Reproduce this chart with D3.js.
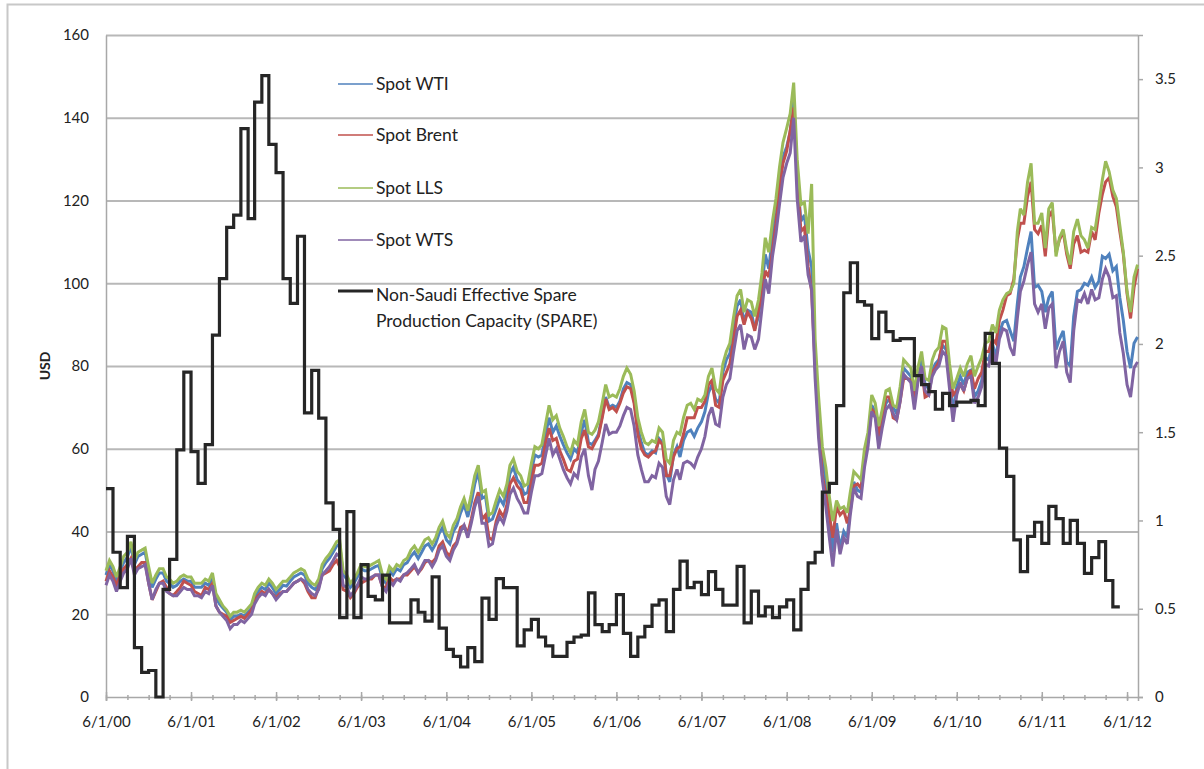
<!DOCTYPE html>
<html>
<head>
<meta charset="utf-8">
<script src="https://cdn.jsdelivr.net/npm/d3@7"></script>
<style>
  body { margin: 0; background: #fff; }
  svg text { font-family: Lato, "Open Sans", sans-serif; fill: #222; }
</style>
</head>
<body>
<svg id="chart" width="1204" height="769"></svg>
<script>
// Spot crude prices (USD/bbl), sampled on the 1st and 16th of each month, Jun 2000 - Jul 2012
const spotWTI = [
  29.5, 32.0, 30.5, 28.0, 30.5, 32.5, 33.8, 36.5, 32.0, 34.0, 34.5, 35.0, 30.5, 26.5,
  28.5, 30.0, 30.0, 28.0, 27.5, 26.5, 27.0, 28.0, 28.5, 28.0, 28.0, 26.5, 26.5, 26.5, 27.5, 27.0, 29.0, 24.0, 22.5, 21.5, 20.5, 18.5, 19.5, 19.5,
  20.0, 19.5, 20.5, 21.5, 24.0, 25.5, 26.5, 26.0, 27.5, 26.5, 25.0, 26.0, 27.0, 26.8, 28.0, 29.0, 29.5, 30.0, 29.5, 27.5, 26.5, 26.0, 27.5, 31.0,
  32.5, 33.5, 35.0, 36.5, 37.0, 29.5, 28.5, 26.5, 27.5, 29.0, 31.0, 30.5, 30.5, 31.0, 31.5, 31.8, 28.5, 27.5, 30.5, 29.5, 31.0, 30.5, 32.0, 32.5,
  34.0, 35.0, 33.5, 35.0, 36.5, 37.0, 35.5, 37.0, 39.5, 41.0, 38.0, 37.0, 40.0, 41.5, 44.5, 46.5, 43.5, 47.0, 51.5, 54.5, 48.0, 48.5, 42.5, 43.0,
  45.5, 48.0, 46.5, 49.5, 54.0, 55.5, 52.5, 51.5, 49.0, 49.5, 54.5, 58.5, 58.0, 58.5, 63.5, 67.5, 64.0, 65.5, 63.0, 61.0, 59.0, 57.5, 60.0, 59.0,
  64.0, 67.0, 61.5, 61.0, 62.0, 63.5, 68.0, 72.5, 70.0, 70.5, 70.0, 71.5, 74.5, 76.0, 75.5, 71.5, 65.0, 61.5, 59.0, 58.5, 59.5, 59.0, 62.5, 61.5,
  54.0, 52.0, 58.5, 60.5, 58.0, 62.0, 64.0, 64.5, 63.0, 65.0, 66.5, 69.0, 73.5, 75.5, 72.0, 71.0, 78.5, 81.5, 83.0, 89.0, 94.5, 96.0, 90.5, 93.5,
  93.0, 89.0, 92.0, 99.0, 107.0, 103.5, 111.5, 117.0, 124.0, 130.5, 133.0, 136.5, 144.0, 126.0, 115.0, 116.5, 108.0, 104.0, 82.0, 68.0, 58.0, 52.0, 44.0, 35.0,
  42.0, 36.0, 40.0, 38.5, 45.5, 52.0, 50.0, 49.5, 57.0, 62.0, 70.5, 69.0, 61.5, 66.5, 71.0, 72.0, 70.0, 68.5, 73.0, 79.5, 78.5, 77.5, 71.0, 77.5,
  81.5, 75.5, 74.5, 79.0, 80.5, 81.5, 85.0, 84.0, 76.5, 69.0, 75.0, 77.5, 75.5, 78.5, 79.0, 72.5, 74.0, 76.5, 82.0, 81.5, 85.5, 82.0, 88.0, 90.5,
  91.0, 88.5, 86.0, 95.0, 101.5, 104.0, 108.5, 112.5, 99.0, 99.5, 98.0, 93.0, 96.5, 98.0, 84.0, 86.5, 88.5, 81.0, 80.0, 92.0, 98.0, 98.5, 100.0, 99.5,
  101.5, 99.0, 100.5, 106.5, 106.0, 107.0, 103.0, 104.0, 96.5, 91.0, 83.5, 79.5, 85.5, 87.0
];
const spotBrent = [
  28.0, 30.5, 29.0, 27.0, 29.5, 31.0, 32.0, 33.5, 30.5, 31.5, 32.5, 32.5, 27.5, 23.5,
  25.5, 27.5, 28.0, 26.5, 25.0, 24.5, 25.5, 26.5, 28.0, 27.5, 27.0, 25.5, 25.0, 24.5, 26.5, 26.0, 27.5, 22.0, 20.5, 20.0, 19.5, 18.0, 18.5, 19.0,
  19.5, 19.0, 20.0, 21.0, 23.5, 24.5, 25.5, 25.0, 26.0, 25.0, 24.0, 25.0, 25.5, 25.5, 26.5, 27.5, 28.0, 28.5, 27.5, 25.5, 24.0, 24.0, 26.5, 29.5,
  30.0, 30.5, 32.0, 33.0, 31.5, 26.0, 25.5, 24.0, 25.0, 26.5, 27.5, 28.0, 28.5, 28.5, 29.5, 29.5, 26.5, 26.5, 29.0, 28.0, 28.5, 28.5, 29.5, 29.5,
  30.5, 31.5, 30.0, 31.0, 32.5, 33.0, 32.5, 33.5, 36.5, 37.5, 35.0, 34.0, 36.5, 37.5, 41.0, 41.5, 39.5, 43.0, 47.0, 49.5, 43.0, 44.0, 38.5, 38.0,
  42.5, 45.0, 43.5, 46.5, 51.5, 53.0, 51.0, 50.0, 47.0, 47.0, 52.0, 56.0, 56.0, 56.5, 61.5, 65.0, 62.0, 62.5, 59.5, 57.5, 55.0, 54.5, 57.0, 57.5,
  62.5, 64.5, 60.5, 60.0, 61.5, 63.0, 67.5, 72.0, 69.5, 70.0, 69.0, 71.0, 73.5, 75.0, 74.5, 71.0, 63.5, 60.0, 58.5, 58.0, 59.0, 59.5, 62.0, 61.0,
  53.5, 53.5, 58.0, 60.0, 60.5, 63.5, 67.5, 67.5, 67.5, 70.0, 70.0, 71.5, 75.5, 76.5, 70.5, 70.0, 76.5, 78.5, 80.5, 86.0, 92.0, 93.5, 90.0, 93.0,
  91.5, 88.5, 93.5, 97.0, 103.0, 101.5, 108.0, 114.5, 123.0, 129.0, 132.0, 137.0, 142.5, 127.5, 112.5, 113.5, 104.0, 98.0, 80.0, 66.0, 53.5, 49.0, 44.0, 38.5,
  46.0, 44.0, 45.0, 42.0, 45.0, 51.0, 51.5, 50.5, 57.5, 62.0, 69.5, 68.5, 63.0, 67.5, 72.5, 72.5, 67.5, 67.0, 71.5, 77.0, 77.0, 76.5, 71.5, 76.5,
  79.5, 72.5, 73.0, 78.5, 79.5, 81.0, 86.0, 86.0, 78.5, 73.0, 74.0, 75.5, 74.0, 77.0, 79.0, 74.5, 77.0, 78.5, 83.5, 83.5, 86.5, 85.5, 91.0, 93.5,
  97.0, 97.5, 101.0, 110.5, 114.5, 114.5, 121.0, 124.5, 113.0, 112.0, 114.0, 106.5, 116.0, 117.5, 107.5, 110.5, 112.5, 107.0, 103.5, 109.5, 111.5, 107.5, 108.0, 107.5,
  112.5, 110.5, 117.0, 121.5, 124.5, 125.5, 121.0, 118.5, 112.5, 107.0, 97.5, 91.5, 99.0, 103.5
];
const spotLLS = [
  30.5, 33.0, 31.5, 29.0, 31.5, 34.0, 35.0, 37.5, 33.0, 35.0, 35.5, 36.0, 31.5, 27.5,
  29.5, 31.0, 31.0, 29.0, 28.5, 27.5, 28.0, 29.0, 29.5, 29.0, 29.0, 27.5, 27.5, 27.5, 28.5, 28.0, 30.0, 25.0, 23.5, 22.0, 21.0, 19.5, 20.5, 20.5,
  21.0, 20.5, 21.5, 22.5, 25.0, 26.5, 27.5, 27.0, 28.5, 27.5, 26.0, 27.0, 28.0, 28.0, 29.0, 30.0, 30.5, 31.0, 30.5, 28.5, 27.5, 27.0, 28.5, 32.0,
  33.5, 34.5, 36.0, 37.5, 38.0, 30.5, 29.5, 27.5, 28.5, 30.0, 32.0, 31.5, 31.5, 32.0, 32.5, 33.0, 29.5, 28.5, 31.5, 30.5, 32.0, 31.5, 33.0, 33.5,
  35.5, 36.5, 35.0, 36.5, 38.0, 38.5, 37.0, 38.5, 41.0, 42.5, 39.5, 38.5, 41.5, 43.0, 46.0, 48.0, 45.0, 49.0, 53.5, 56.0, 49.5, 50.0, 44.0, 44.5,
  47.5, 50.0, 48.5, 51.5, 56.0, 57.5, 54.5, 53.5, 51.0, 51.5, 56.5, 60.5, 60.0, 61.0, 66.0, 70.5, 67.0, 68.0, 65.0, 63.0, 60.5, 59.0, 62.0, 61.0,
  66.5, 69.5, 64.0, 63.5, 64.5, 66.5, 71.0, 75.5, 72.5, 73.0, 72.5, 74.5, 77.5, 79.5, 78.0, 74.0, 67.5, 64.0, 61.5, 61.0, 62.0, 61.5, 65.0, 64.0,
  57.5, 56.5, 62.0, 64.0, 63.5, 67.5, 70.5, 71.0, 69.5, 72.0, 71.5, 73.0, 77.5, 79.5, 74.5, 73.5, 80.5, 83.5, 85.5, 91.5, 97.0, 98.5, 93.0, 96.0,
  95.5, 92.0, 96.0, 102.5, 111.0, 107.5, 115.0, 120.5, 128.0, 134.0, 137.5, 141.0, 148.5, 130.0, 119.0, 119.5, 112.0, 124.0, 86.5, 72.5, 60.5, 55.5, 48.5, 42.5,
  47.5, 45.5, 46.0, 44.5, 49.5, 54.5, 53.5, 52.5, 60.0, 64.0, 73.0, 71.0, 65.5, 69.5, 74.0, 74.5, 70.5, 70.0, 75.0, 81.5, 80.5, 79.5, 74.0, 79.5,
  83.5, 77.0, 76.5, 81.5, 83.5, 84.5, 89.5, 89.0, 80.5, 74.5, 77.0, 79.5, 77.5, 80.5, 82.5, 77.5, 80.0, 82.0, 85.5, 86.0, 90.0, 88.0, 93.5, 96.0,
  97.5, 98.0, 100.0, 112.5, 118.0, 116.5, 124.5, 129.0, 114.5, 114.5, 117.0, 108.5, 118.0, 119.5, 106.5, 111.0, 113.0, 108.0, 104.5, 112.5, 115.5, 111.5, 110.5, 108.5,
  113.5, 113.0, 119.0, 125.0, 129.5, 127.0, 122.5, 120.5, 114.0, 107.5, 98.0, 93.0, 101.5, 104.5
];
const spotWTS = [
  27.0, 29.5, 28.0, 25.5, 28.0, 30.0, 31.0, 33.5, 29.5, 31.0, 31.5, 32.0, 27.5, 23.5,
  26.0, 27.5, 27.5, 25.5, 25.0, 24.5, 24.5, 25.5, 26.5, 26.0, 26.0, 24.5, 24.5, 24.0, 25.5, 25.0, 27.0, 22.0, 20.5, 19.5, 18.5, 16.5, 17.5, 17.5,
  18.5, 18.0, 19.0, 20.0, 22.5, 24.0, 25.0, 24.5, 26.0, 25.0, 23.5, 24.5, 25.5, 25.5, 26.5, 27.5, 28.0, 28.5, 28.0, 26.0, 25.0, 24.5, 26.0, 29.5,
  30.5, 31.5, 33.0, 34.5, 34.0, 27.0, 26.5, 24.5, 25.5, 27.0, 29.0, 28.5, 28.5, 29.0, 29.5, 29.5, 26.5, 25.5, 28.0, 27.0, 28.5, 28.0, 29.5, 30.0,
  31.0, 32.0, 30.0, 31.5, 33.0, 33.0, 31.5, 33.0, 35.5, 36.5, 34.0, 33.0, 35.5, 37.0, 40.0, 41.5, 38.5, 42.0, 46.0, 48.5, 42.0, 42.0, 36.5, 37.0,
  41.5, 43.5, 42.0, 45.0, 49.0, 50.5, 48.0, 46.5, 44.5, 44.5, 49.5, 53.5, 53.5, 54.0, 58.5, 62.5, 58.5, 60.0, 57.5, 55.0, 53.0, 51.5, 54.0, 53.0,
  58.0, 60.0, 53.5, 50.0, 55.0, 57.0, 61.5, 66.0, 63.5, 64.0, 64.0, 65.5, 68.0, 70.0, 69.5, 65.5, 58.5, 55.0, 52.0, 52.0, 53.5, 53.0, 56.5, 55.5,
  48.5, 46.5, 52.5, 55.0, 52.5, 56.5, 57.0, 56.5, 55.5, 58.0, 60.0, 63.0, 68.0, 70.0, 66.0, 65.5, 72.5, 75.5, 77.0, 83.0, 88.5, 90.0, 84.0, 87.5,
  87.0, 84.0, 86.5, 94.0, 101.0, 97.5, 106.5, 112.0, 119.0, 125.5, 129.0, 131.5, 140.0, 120.5, 110.0, 111.5, 102.0, 98.5, 77.0, 62.5, 52.5, 46.0, 38.5, 31.5,
  40.5, 34.5, 38.5, 37.0, 44.0, 50.5, 48.5, 48.0, 55.5, 60.5, 69.0, 67.5, 60.0, 65.0, 69.5, 70.5, 68.5, 67.0, 71.5, 78.0, 77.0, 76.0, 69.5, 76.0,
  80.0, 74.0, 73.0, 77.5, 79.0, 80.0, 83.5, 82.5, 74.5, 66.5, 73.0, 76.0, 74.0, 77.0, 77.5, 71.0, 72.5, 75.0, 80.5, 80.0, 84.0, 80.5, 86.5, 89.0,
  88.5, 84.5, 82.5, 91.5, 98.0, 100.5, 104.5, 107.5, 95.0, 93.0, 95.0, 89.0, 94.0, 95.0, 79.5, 83.5, 86.0, 78.5, 76.0, 88.5, 96.0, 95.5, 97.5, 95.0,
  98.5, 96.0, 96.5, 101.0, 103.5, 101.5, 96.5, 97.0, 88.0, 83.0, 75.5, 72.5, 79.5, 81.0
];

// Non-Saudi effective spare production capacity, monthly Jun 2000 - May 2012 (right axis)
const spareCapacity = [
  1.18, 0.82, 0.62, 0.91, 0.28, 0.14, 0.15,
  0.00, 0.61, 0.78, 1.40, 1.84, 1.39, 1.21, 1.43, 2.05, 2.37, 2.66, 2.73,
  3.22, 2.71, 3.37, 3.52, 3.13, 2.97, 2.37, 2.23, 2.61, 1.61, 1.85, 1.58,
  1.10, 0.95, 0.45, 1.05, 0.45, 0.75, 0.57, 0.55, 0.69, 0.42, 0.42, 0.42,
  0.55, 0.48, 0.43, 0.68, 0.39, 0.27, 0.23, 0.17, 0.28, 0.20, 0.56, 0.44,
  0.67, 0.62, 0.62, 0.29, 0.38, 0.44, 0.34, 0.29, 0.23, 0.23, 0.31, 0.34,
  0.35, 0.59, 0.41, 0.37, 0.41, 0.58, 0.36, 0.23, 0.34, 0.40, 0.52, 0.55,
  0.37, 0.61, 0.77, 0.62, 0.65, 0.58, 0.71, 0.61, 0.52, 0.52, 0.74, 0.42,
  0.60, 0.46, 0.51, 0.45, 0.51, 0.55, 0.38, 0.61, 0.76, 0.82, 1.16, 1.21,
  1.65, 2.29, 2.46, 2.24, 2.22, 2.03, 2.18, 2.07, 2.02, 2.03, 2.03, 1.82,
  1.77, 1.73, 1.63, 1.72, 1.65, 1.67, 1.67, 1.68, 1.65, 2.06, 1.89, 1.41,
  1.25, 0.89, 0.71, 0.91, 0.99, 0.87, 1.08, 1.01, 0.87, 1.00, 0.87, 0.70,
  0.79, 0.88, 0.66, 0.51, 0.51
];

const seriesNames = ["Spot WTI", "Spot Brent", "Spot LLS", "Spot WTS"];
const spareName = ["Non-Saudi Effective Spare", "Production Capacity (SPARE)"];
const usdTicks = [0, 20, 40, 60, 80, 100, 120, 140, 160];
const spareTicks = [0, 0.5, 1, 1.5, 2, 2.5, 3, 3.5];
const yearTicks = d3.range(2000, 2013).map(yr => new Date(yr, 5, 1));
const quarterTicks = d3.range(0, 49).map(i => new Date(2000, 5 + 3 * i, 1));

const colors = ["#4F81BD", "#C0504D", "#9BBB59", "#8064A2"];
const spareColor = "#262626";

const svg = d3.select("#chart");
const plotL = 106, plotR = 1138, plotT = 35, plotB = 697;

const x = d3.scaleTime()
  .domain([new Date(2000, 5, 1), new Date(2012, 6, 18)])
  .range([plotL, plotR]);
const yL = d3.scaleLinear().domain([0, 160]).range([plotB, plotT]);
const yR = d3.scaleLinear().domain([0, 3.75]).range([plotB, plotT]);

svg.append("rect").attr("width", 1204).attr("height", 769).attr("fill", "#fff");
// outer chart frame
svg.append("rect")
  .attr("x", 7.5).attr("y", 4.5).attr("width", 1400).attr("height", 900)
  .attr("fill", "none").attr("stroke", "#c8c8c8").attr("stroke-width", 2);

// horizontal gridlines
const grid = svg.append("g").attr("transform", `translate(${plotL},0)`)
  .call(d3.axisLeft(yL).tickValues(usdTicks.slice(1)).tickSize(-(plotR - plotL)).tickFormat(""));
grid.select(".domain").remove();
grid.selectAll("line").attr("stroke", "#b8b8b8").attr("stroke-width", 2);

// left axis labels
const axL = svg.append("g").attr("transform", `translate(${plotL},0)`)
  .call(d3.axisLeft(yL).tickValues(usdTicks).tickSize(0).tickPadding(17));
axL.select(".domain").attr("stroke", "#a8a8a8").attr("stroke-width", 1.5);
axL.selectAll("text").attr("font-size", 15).attr("fill", "#222");

// right axis
const axR = svg.append("g").attr("transform", `translate(${plotR},0)`)
  .call(d3.axisRight(yR).tickValues(spareTicks).tickSize(5).tickPadding(12).tickFormat(d => String(d)));
axR.select(".domain").attr("stroke", "#a8a8a8").attr("stroke-width", 1.5);
axR.selectAll("line").attr("stroke", "#a8a8a8").attr("stroke-width", 1.5);
axR.selectAll("text").attr("font-size", 15).attr("fill", "#222");

// bottom axis: minor quarterly ticks, major yearly ticks with labels
const axMinor = svg.append("g").attr("transform", `translate(0,${plotB})`)
  .call(d3.axisBottom(x).tickValues(quarterTicks.filter(d => d <= x.domain()[1])).tickSize(3).tickFormat(""));
axMinor.select(".domain").remove();
axMinor.selectAll("line").attr("y1", -2).attr("stroke", "#a8a8a8").attr("stroke-width", 1.5);

const axB = svg.append("g").attr("transform", `translate(0,${plotB})`)
  .call(d3.axisBottom(x).tickValues(yearTicks).tickSize(4).tickFormat(d3.timeFormat("%-m/%-d/%y")));
axB.select(".domain").attr("stroke", "#a8a8a8").attr("stroke-width", 1.5);
axB.selectAll("line").attr("y1", -5).attr("stroke", "#a8a8a8").attr("stroke-width", 1.5);
axB.selectAll("text").attr("y", 25).attr("dy", "0.35em").attr("font-size", 15).attr("fill", "#222");

// axis title
svg.append("text")
  .attr("transform", `translate(46,${(plotT + plotB) / 2}) rotate(-90)`)
  .attr("text-anchor", "middle").attr("dominant-baseline", "middle")
  .attr("font-size", 14).attr("font-weight", "bold").text("USD");

// price series
const priceDates = d3.range(spotWTI.length).map(i => new Date(2000, 5 + Math.floor(i / 2), i % 2 ? 16 : 1));
const priceLine = d3.line().x(d => x(d[0])).y(d => yL(d[1]));
[spotWTI, spotBrent, spotLLS, spotWTS].forEach((vals, k) => {
  svg.append("path")
    .datum(vals.map((v, i) => [priceDates[i], v]))
    .attr("d", priceLine)
    .attr("fill", "none").attr("stroke", colors[k]).attr("stroke-width", 3)
    .attr("stroke-linejoin", "miter").attr("stroke-miterlimit", 3);
});

// spare capacity step line
const spareDates = d3.range(spareCapacity.length).map(i => new Date(2000, 5 + i, 1));
const spareLine = d3.line().curve(d3.curveStepAfter).x(d => x(d[0])).y(d => yR(d[1]));
svg.append("path")
  .datum(spareCapacity.map((v, i) => [spareDates[i], v]))
  .attr("d", spareLine)
  .attr("fill", "none").attr("stroke", spareColor).attr("stroke-width", 3.2)
  .attr("stroke-linejoin", "miter");

// legend
const legend = svg.append("g");
const legendY = [84, 135, 188, 240];
seriesNames.forEach((name, k) => {
  legend.append("line").attr("x1", 338).attr("x2", 373).attr("y1", legendY[k]).attr("y2", legendY[k])
    .attr("stroke", colors[k]).attr("stroke-width", 1.6);
  legend.append("text").attr("x", 376).attr("y", legendY[k]).attr("dy", "0.35em")
    .attr("font-size", 17.5).text(name);
});
legend.append("line").attr("x1", 338).attr("x2", 373).attr("y1", 291).attr("y2", 291)
  .attr("stroke", spareColor).attr("stroke-width", 3);
spareName.forEach((t, i) => {
  legend.append("text").attr("x", 376).attr("y", 295 + i * 26).attr("dy", "0.35em")
    .attr("font-size", 17.5).text(t);
});
</script>
</body>
</html>
